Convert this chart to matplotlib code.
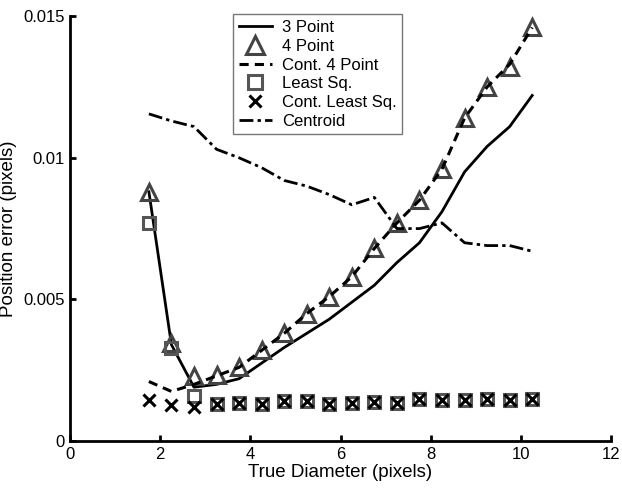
import numpy as np
import matplotlib
matplotlib.use("Agg")
import matplotlib.pyplot as plt

plt.rcParams['font.family'] = ['Liberation Sans', 'DejaVu Sans']

# diameters
diam = [1.75, 2.25, 2.75, 3.25, 3.75, 4.25, 4.75, 5.25, 5.75,
        6.25, 6.75, 7.25, 7.75, 8.25, 8.75, 9.25, 9.75, 10.25]

three_pt = [0.0088, 0.0034, 0.0019, 0.0020, 0.0022, 0.00275, 0.0033, 0.0038, 0.0043,
            0.0049, 0.0055, 0.0063, 0.0070, 0.0081, 0.0095, 0.0104, 0.0111, 0.0122]
four_pt = [0.0088, 0.00346, 0.0023, 0.00233, 0.0026, 0.0032, 0.0038, 0.0045, 0.0051,
           0.0058, 0.0068, 0.0077, 0.0085, 0.0096, 0.0114, 0.0125, 0.0132, 0.0146]
cont_four = [0.0021, 0.00175, 0.0020, 0.0023, 0.0026, 0.0032, 0.0038, 0.0045, 0.0051,
             0.0058, 0.0068, 0.0077, 0.0085, 0.0096, 0.0114, 0.0125, 0.0133, 0.0146]
least_sq = [0.0077, 0.0033, 0.0016, 0.0013, 0.00135, 0.0013, 0.0014, 0.0014, 0.0013,
            0.00135, 0.00138, 0.00135, 0.00148, 0.00145, 0.00145, 0.0015, 0.00145, 0.0015]
cont_least = [0.00145, 0.00127, 0.0012, 0.0013, 0.00135, 0.0013, 0.0014, 0.0014, 0.0013,
              0.00135, 0.00138, 0.00135, 0.00148, 0.00145, 0.00145, 0.0015, 0.00145, 0.0015]
centroid = [0.01155, 0.0113, 0.0111, 0.0103, 0.0100, 0.00965, 0.0092, 0.0090, 0.0087,
            0.00834, 0.0086, 0.0075, 0.0075, 0.0077, 0.0070, 0.0069, 0.0069, 0.0067]

fig = plt.figure(figsize=(6.22, 4.90), dpi=100)
ax = fig.add_axes([0.1125, 0.10, 0.87, 0.867])

mk_gray = "#444444"
ax.plot(diam, three_pt, color="black", lw=2, label="3 Point")
ax.plot(diam, four_pt, ls="none", marker="^", ms=11, mfc="none", mec=mk_gray,
        mew=2.2, label="4 Point")
ax.plot(diam, cont_four, color="black", lw=2.2, ls=(0, (3, 2)), label="Cont. 4 Point")
ax.plot(diam, least_sq, ls="none", marker="s", ms=9, mfc="none", mec="#555555",
        mew=2.2, label="Least Sq.")
ax.plot(diam, cont_least, ls="none", marker="x", ms=8, color="black", mew=2.2,
        label="Cont. Least Sq.")
ax.plot(diam, centroid, color="black", lw=2, ls=(0, (5, 1.5, 1.2, 1.5)), label="Centroid")

ax.set_xlim(0, 12)
ax.set_ylim(0, 0.015)
ax.set_xticks([0, 2, 4, 6, 8, 10, 12])
ax.set_yticks([0, 0.005, 0.01, 0.015])
ax.set_yticklabels(["0", "0.005", "0.01", "0.015"])
ax.tick_params(direction="in", length=4, width=2, labelsize=12, pad=4)
for s in ["top", "right"]:
    ax.spines[s].set_visible(False)
for s in ["left", "bottom"]:
    ax.spines[s].set_linewidth(2)
    ax.spines[s].set_zorder(5)

ax.set_xlabel("True Diameter (pixels)", fontsize=13.5, labelpad=2)
ax.set_ylabel("Position error (pixels)", fontsize=13.5, labelpad=4)

leg = ax.legend(loc="upper left", bbox_to_anchor=(0.301, 1.004), borderaxespad=0,
                fontsize=12, frameon=True, fancybox=False, edgecolor="#555555",
                handlelength=2.0, borderpad=0.35, labelspacing=0.22,
                handletextpad=0.6, markerscale=1.15)
leg.get_frame().set_linewidth(1)

fig.savefig("out.png", dpi=100)
